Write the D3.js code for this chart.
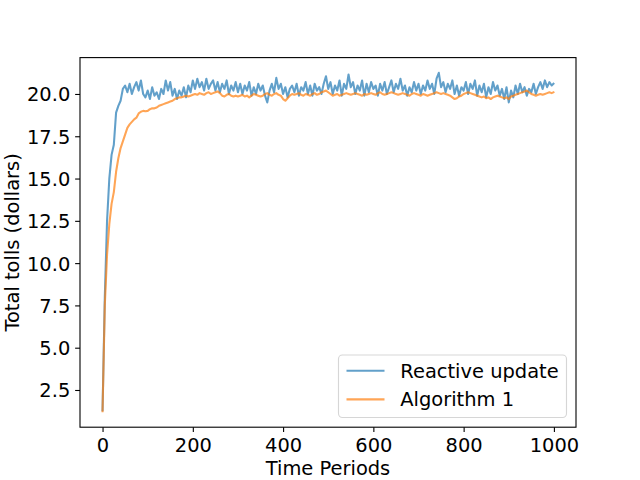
<!DOCTYPE html>
<html>
<head>
<meta charset="utf-8">
<script src="https://cdn.jsdelivr.net/npm/d3@7/dist/d3.min.js"></script>
<style>
  body { margin: 0; background: #fff; }
  svg { display: block; }
  text { font-family: "DejaVu Sans", sans-serif; }
</style>
</head>
<body>
<svg id="chart" width="640" height="480"></svg>
<script>
const timeStep = 5;
const reactiveUpdate = [
  1.3, 8.0, 12.5, 15.0, 16.4, 17.0, 18.9, 19.3, 19.6, 20.3, 20.5, 20.1, 20.6, 20.0, 20.4, 20.7, 20.2, 20.8, 20.0, 19.8,
  20.2, 19.7, 20.4, 19.9, 20.1, 19.7, 20.3, 20.0, 20.8, 20.2, 20.7, 19.9, 20.3, 19.7, 20.2, 19.9, 20.4, 19.8, 20.5, 20.1,
  20.8, 20.3, 20.9, 20.4, 20.7, 20.2, 20.9, 20.3, 20.6, 20.8, 20.2, 20.7, 20.1, 20.6, 20.3, 20.8, 20.0, 20.5, 20.2, 20.7,
  20.1, 20.6, 20.0, 20.5, 20.2, 20.7, 19.9, 20.4, 20.0, 20.6, 20.2, 20.5, 19.9, 19.5, 20.2, 20.6, 20.1, 20.95, 20.3, 20.6,
  20.0, 20.4, 19.8, 20.3, 20.5, 20.1, 20.6, 19.9, 20.4, 20.2, 20.7, 20.0, 20.5, 19.9, 20.6, 20.2, 20.4, 20.0, 20.6, 21.05,
  20.3, 20.7, 20.0, 20.5, 20.2, 20.8, 19.9, 20.6, 20.3, 21.15, 20.4, 20.7, 20.0, 20.5, 20.2, 20.8, 19.9, 20.6, 20.1, 20.7,
  20.3, 20.5, 19.9, 20.6, 20.2, 20.7, 20.0, 20.4, 20.8, 20.1, 20.6, 20.3, 20.9, 20.2, 20.5, 19.9, 20.4, 20.1, 20.7, 20.2,
  20.6, 20.0, 20.5, 20.2, 20.8, 20.3, 20.6, 20.0, 20.9, 21.25, 20.4, 20.7, 20.1, 20.6, 20.3, 20.8, 20.0, 20.5, 19.9, 20.4,
  20.2, 20.7, 20.0, 20.6, 20.3, 20.8, 19.9, 20.5, 20.1, 20.6, 19.8, 20.4, 20.0, 20.7, 20.2, 20.5, 19.9, 20.3, 19.7, 20.4,
  19.5, 20.2, 19.8, 20.5, 20.0, 20.6, 20.1, 20.4, 19.9, 20.3, 20.1, 20.6, 20.0, 20.4, 20.7, 20.3, 20.8, 20.4, 20.7, 20.5,
  20.6
];
const algorithm1 = [
  1.25, 7.5, 10.5, 12.3, 13.5, 14.2, 15.4, 16.2, 16.8, 17.2, 17.6, 18.0, 18.2, 18.35, 18.5, 18.6, 18.85, 18.95, 19.0, 18.98,
  19.0, 19.1, 19.15, 19.15, 19.2, 19.3, 19.35, 19.4, 19.45, 19.5, 19.55, 19.6, 19.7, 19.75, 19.8, 19.8, 19.85, 19.9, 19.85, 19.9,
  19.95, 20.0, 19.95, 20.05, 20.0, 19.95, 20.05, 20.1, 20.0, 20.05, 20.1, 20.15, 20.05, 19.9, 19.85, 19.95, 20.0, 19.9, 19.85, 19.9,
  19.85, 19.9, 19.95, 19.85, 19.9, 19.8, 19.9, 20.0, 19.95, 19.9, 19.85, 19.9, 20.0, 20.05, 19.95, 19.9, 20.0, 20.05, 19.95, 19.9,
  19.7, 19.6, 19.75, 19.9, 20.0, 19.95, 20.0, 20.05, 19.95, 19.9, 20.0, 19.95, 19.9, 20.0, 20.05, 19.95, 20.0, 20.1, 20.15, 20.2,
  20.1, 20.0, 19.9, 19.95, 20.0, 19.9, 19.95, 20.0, 20.05, 20.0, 19.95, 20.0, 20.05, 20.0, 19.95, 19.9, 20.0, 19.95, 20.0, 20.05,
  20.0, 19.95, 20.05, 20.1, 20.0, 19.95, 20.0, 20.05, 20.1, 20.05, 20.0, 19.95, 20.0, 20.05, 20.0, 19.95, 19.9, 20.0, 20.05, 20.0,
  19.95, 19.9, 20.0, 19.95, 19.9, 19.95, 20.0, 20.05, 20.1, 20.05, 20.0, 20.05, 20.0, 19.95, 19.9, 19.8, 19.7, 19.75, 19.85, 19.9,
  20.0, 20.05, 20.1, 20.05, 20.0, 19.95, 19.9, 19.85, 19.8, 19.85, 19.75, 19.8, 19.7, 19.8, 19.85, 19.9, 19.85, 19.8, 19.75, 19.8,
  19.7, 19.85, 19.9, 19.95, 20.0, 20.05, 20.1, 20.15, 20.2, 20.1, 20.0, 19.95, 19.9, 19.95, 20.0, 19.95, 20.0, 20.05, 20.1, 20.05,
  20.1
];
const xTicks = [0, 200, 400, 600, 800, 1000];
const yTicks = [2.5, 5.0, 7.5, 10.0, 12.5, 15.0, 17.5, 20.0];
const seriesNames = ["Reactive update", "Algorithm 1"];
const seriesColors = ["#1f77b4", "#ff7f0e"];
const xLabel = "Time Periods";
const yLabel = "Total tolls (dollars)";

// time index for each sample (last sample is t = 999)
function timesFor(arr) {
  return arr.map((_, i) => Math.min(i * timeStep, 999));
}

// ---- layout ----
const plotL = 80, plotR = 576, plotT = 57.6, plotB = 427.2;
const fs = 19.44;
const tickLen = 4.86;

const svg = d3.select("#chart");

const x = d3.scaleLinear().domain([-49.95, 1048.95]).range([plotL, plotR]);
const y = d3.scaleLinear().domain([0.3, 22.15]).range([plotB, plotT]);

svg.append("defs").append("clipPath").attr("id", "clip")
  .append("rect").attr("x", plotL).attr("y", plotT)
  .attr("width", plotR - plotL).attr("height", plotB - plotT);

// lines
const line = d3.line().x(d => x(d[0])).y(d => y(d[1]));
const allSeries = [reactiveUpdate, algorithm1];
allSeries.forEach((s, k) => {
  const t = timesFor(s);
  const pts = s.map((v, i) => [t[i], v]);
  svg.append("path")
    .attr("clip-path", "url(#clip)")
    .attr("d", line(pts))
    .attr("fill", "none")
    .attr("stroke", seriesColors[k])
    .attr("stroke-opacity", 0.7)
    .attr("stroke-width", 2.08)
    .attr("stroke-linejoin", "round")
    .attr("stroke-linecap", "square");
});

// axes
const xAxis = d3.axisBottom(x).tickValues(xTicks).tickFormat(d3.format("d"))
  .tickSizeInner(tickLen).tickSizeOuter(0).tickPadding(tickLen);
const yAxis = d3.axisLeft(y).tickValues(yTicks).tickFormat(d3.format(".1f"))
  .tickSizeInner(tickLen).tickSizeOuter(0).tickPadding(tickLen);

const gx = svg.append("g").attr("transform", `translate(0,${plotB})`).call(xAxis);
const gy = svg.append("g").attr("transform", `translate(${plotL},0)`).call(yAxis);
[gx, gy].forEach(g => {
  g.select(".domain").remove();
  g.selectAll(".tick line").attr("stroke", "#000").attr("stroke-width", 1.1);
  g.selectAll(".tick text").attr("fill", "#000")
    .style("font-family", "'DejaVu Sans', sans-serif").style("font-size", fs + "px");
});
gx.selectAll(".tick text").attr("dy", "0.78em");
gy.selectAll(".tick text").attr("dy", "0.36em");

// spines
svg.append("rect").attr("x", plotL).attr("y", plotT)
  .attr("width", plotR - plotL).attr("height", plotB - plotT)
  .attr("fill", "none").attr("stroke", "#000").attr("stroke-width", 1.1);

// axis labels
svg.append("text").attr("x", (plotL + plotR) / 2).attr("y", 474.5)
  .attr("text-anchor", "middle").style("font-size", fs + "px").attr("fill", "#000")
  .text(xLabel);
svg.append("text")
  .attr("transform", `translate(18.5,${(plotT + plotB) / 2}) rotate(-90)`)
  .attr("text-anchor", "middle").style("font-size", fs + "px").attr("fill", "#000")
  .text(yLabel);

// legend
const lg = svg.append("g");
lg.append("rect").attr("x", 338.5).attr("y", 355).attr("width", 228).attr("height", 62.5)
  .attr("rx", 3.9).attr("ry", 3.9)
  .attr("fill", "#fff").attr("fill-opacity", 0.8)
  .attr("stroke", "#cccccc").attr("stroke-opacity", 0.8).attr("stroke-width", 1.1);
seriesNames.forEach((name, k) => {
  const cy = 370.8 + k * 28.6;
  lg.append("line").attr("x1", 346.5).attr("x2", 384.5).attr("y1", cy).attr("y2", cy)
    .attr("stroke", seriesColors[k]).attr("stroke-opacity", 0.7).attr("stroke-width", 2.08);
  lg.append("text").attr("x", 400.3).attr("y", cy).attr("dy", "0.36em")
    .style("font-size", fs + "px").attr("fill", "#000").text(name);
});
</script>
</body>
</html>
